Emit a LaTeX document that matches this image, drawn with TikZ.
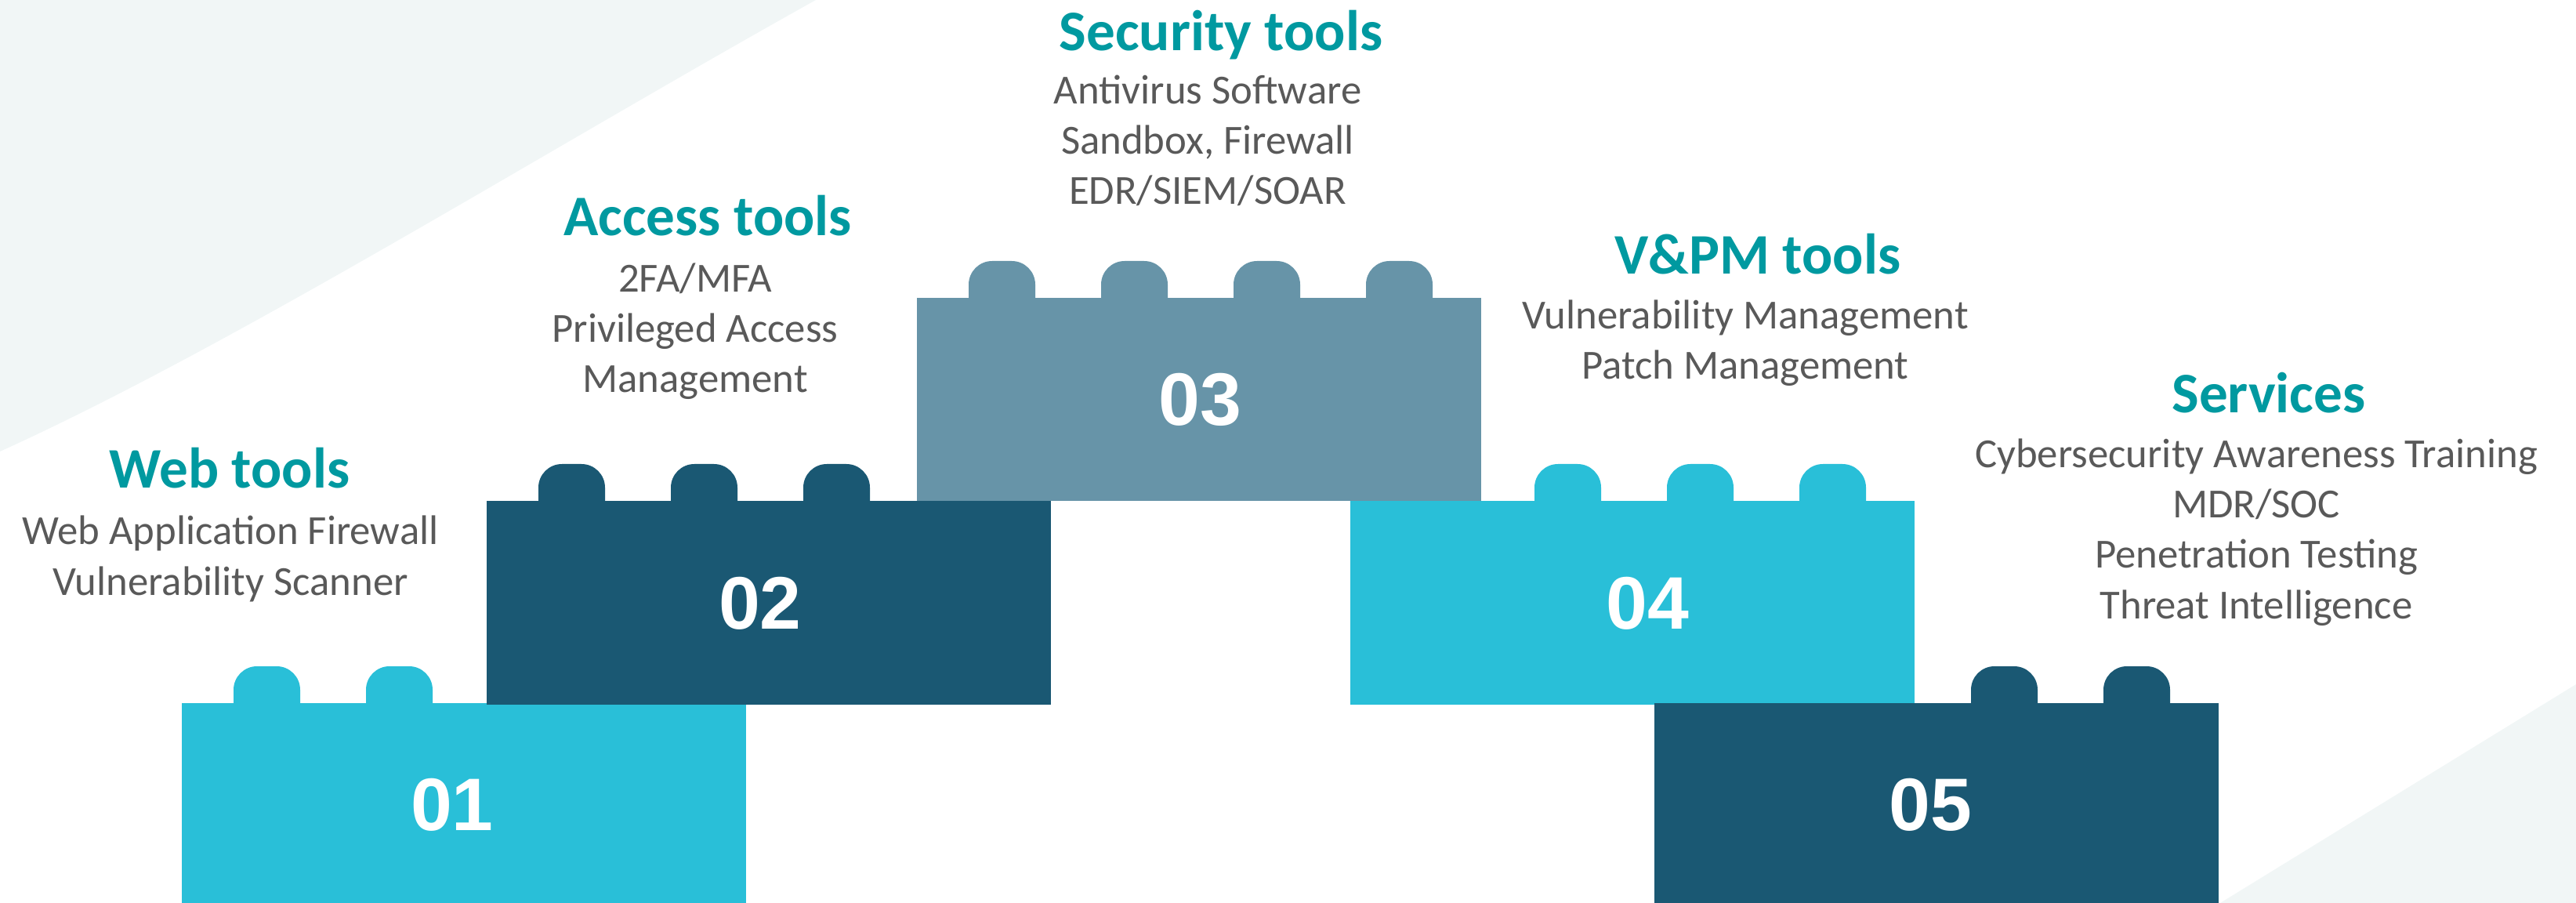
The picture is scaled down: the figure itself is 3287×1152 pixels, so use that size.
\documentclass[tikz,border=0pt]{standalone}
\usepackage{fontspec}
\setmainfont{Carlito}
\newfontfamily\numfont{Liberation Sans}
\usetikzlibrary{positioning}
\definecolor{lightbrick}{HTML}{29BFD8}
\definecolor{darkbrick}{HTML}{1A5873}
\definecolor{greybrick}{HTML}{6794A8}
\definecolor{headteal}{HTML}{0099A0}
\definecolor{itemgrey}{HTML}{595959}
\definecolor{bgshade}{HTML}{F1F6F6}

\begin{document}
\begin{tikzpicture}[x=0.01cm,y=-0.01cm,
  head/.style={font=\fontsize{20.8}{25}\selectfont\bfseries,text=headteal,anchor=base,inner sep=0pt},
  items/.style={font=\fontsize{15}{18.2}\selectfont,text=itemgrey,align=center,anchor=base,inner sep=0pt},
  num/.style={font=\numfont\fontsize{27}{30}\selectfont\bfseries,text=white}]
\useasboundingbox (0,0) rectangle (3287,1152);
\fill[bgshade] (0,0) -- (1041,0) .. controls (700,190) and (300,440) .. (0,576) -- cycle;
\fill[bgshade] (3287,873) -- (2833,1152) -- (3287,1152) -- cycle;
\foreach \bx/\by/\bh/\col/\num/\nx/\ny/\studs in {
  232/897/255/lightbrick/01/577/1027/{0,1},
  621/639/260/darkbrick/02/970/770/{0,1,2},
  1170/380/259/greybrick/03/1531/510/{0,1,2,3},
  1723/639/260/lightbrick/04/2102/770/{1,2,3},
  2111/897/255/darkbrick/05/2463/1027/{2,3}}
{
  \fill[\col] (\bx,\by) rectangle ++(720,\bh);
  \foreach \s in \studs
    \fill[\col,rounded corners=0.3cm] (\bx+66+169*\s,\by+40) rectangle ++(85,-87);
  \node[num] (n\num) at (\nx,\ny) {\num};
}
% base of a list = base of its last line
\node[head] (web) at (293,623) {Web tools};
\node[items] (webitems) at (294,759) {Web Application Firewall\\Vulnerability Scanner};
\node[head] (access) at (903,301) {Access tools};
\node[items] (accessitems) at (887,501) {2FA/MFA\\Privileged Access\\Management};
\node[head] (security) at (1558,65) {Security tools};
\node[items] (securityitems) at (1541,261) {Antivirus Software\\Sandbox, Firewall\\EDR/SIEM/SOAR};
\node[head] (vpm) at (2243,350) {V\&PM tools};
\node[items] (vpmitems) at (2227,484) {Vulnerability Management\\Patch Management};
\node[head] (services) at (2895,527) {Services};
\node[items] (servicesitems) at (2879,789) {Cybersecurity Awareness Training\\MDR/SOC\\Penetration Testing\\Threat Intelligence};
\end{tikzpicture}
\end{document}
